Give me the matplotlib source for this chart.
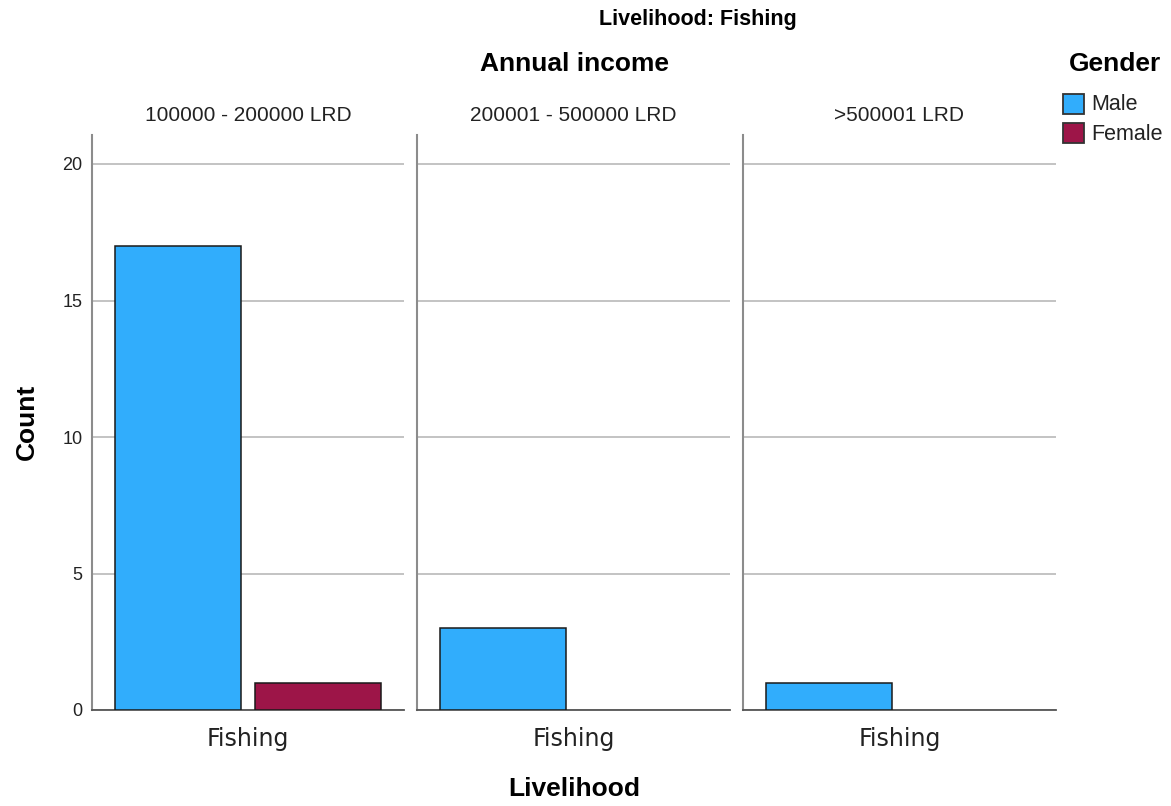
import matplotlib
matplotlib.use("Agg")
import matplotlib.pyplot as plt
from matplotlib.patches import Rectangle

# Data
income_groups = ["100000 - 200000 LRD", "200001 - 500000 LRD", ">500001 LRD"]
livelihood = ["Fishing"]
genders = ["Male", "Female"]
male_counts = [17, 3, 1]
female_counts = [1, 0, 0]
yticks = [0, 5, 10, 15, 20]

colors = {"Male": "#31adfc", "Female": "#9d1548"}

W, H = 1171, 806
fig = plt.figure(figsize=(W / 100, H / 100), dpi=100)
plt.rcParams["font.family"] = ["Liberation Sans", "DejaVu Sans"]

panels_px = [(92, 404), (417, 730), (743, 1056)]
top_px, bot_px = 135, 710

def fx(x):
    return x / W

def fy(y):
    return 1 - y / H

offset = 0.2244
bw = 0.404
axes = []
for i, (x0, x1) in enumerate(panels_px):
    ax = fig.add_axes([fx(x0), fy(bot_px), fx(x1 - x0), (bot_px - top_px) / H])
    axes.append(ax)
    vals = {"Male": male_counts[i], "Female": female_counts[i]}
    for g, off in zip(genders, [-offset, offset]):
        v = vals[g]
        if v > 0:
            ax.bar(0 + off, v, width=bw, color=colors[g], edgecolor="#1a1a1a",
                   linewidth=1.1, zorder=3)
    ax.set_xlim(-0.5, 0.5)
    ax.set_ylim(0, 20 + (164 - 135) / 27.3)
    ax.set_yticks(yticks)
    ax.yaxis.grid(True, color="#b3b3b3", linewidth=1.1, zorder=0)
    ax.set_axisbelow(True)
    ax.tick_params(axis="both", length=0)
    ax.set_xticks([0])
    ax.set_xticklabels(livelihood, fontsize=17, family="DejaVu Sans", color="#222222")
    ax.tick_params(axis="x", pad=12)
    if i == 0:
        ax.set_yticklabels([str(t) for t in yticks], fontsize=13, color="#222222")
        ax.tick_params(axis="y", pad=7)
    else:
        ax.set_yticklabels([])
    for s in ["top", "right"]:
        ax.spines[s].set_visible(False)
    ax.spines["left"].set_color("#8c8c8c")
    ax.spines["left"].set_linewidth(1.5)
    ax.spines["bottom"].set_color("#555555")
    ax.spines["bottom"].set_linewidth(1.3)
    ax.set_title(income_groups[i], fontsize=15, color="#222222", pad=10)

fig.text(fx(698), fy(19), "Livelihood: Fishing", fontsize=15.5, fontweight="bold",
         ha="center", va="center")
fig.text(fx(574), fy(64), "Annual income", fontsize=19, fontweight="bold",
         ha="center", va="center")
fig.text(fx(27), fy(422), "Count", fontsize=19, fontweight="bold",
         ha="center", va="center", rotation=90)
fig.text(fx(574), fy(789), "Livelihood", fontsize=19, fontweight="bold",
         ha="center", va="center")
fig.text(fx(1115), fy(64), "Gender", fontsize=19, fontweight="bold",
         ha="center", va="center")

for g, yc in zip(genders, [104, 133]):
    fig.patches.append(Rectangle((fx(1063), fy(yc + 10)), fx(21), 20 / H,
                                 transform=fig.transFigure, facecolor=colors[g],
                                 edgecolor="#333333", linewidth=1.3))
    fig.text(fx(1091), fy(yc + 1), g, fontsize=15.5, ha="left", va="center",
             color="#222222")

fig.savefig("out.png", dpi=100)
